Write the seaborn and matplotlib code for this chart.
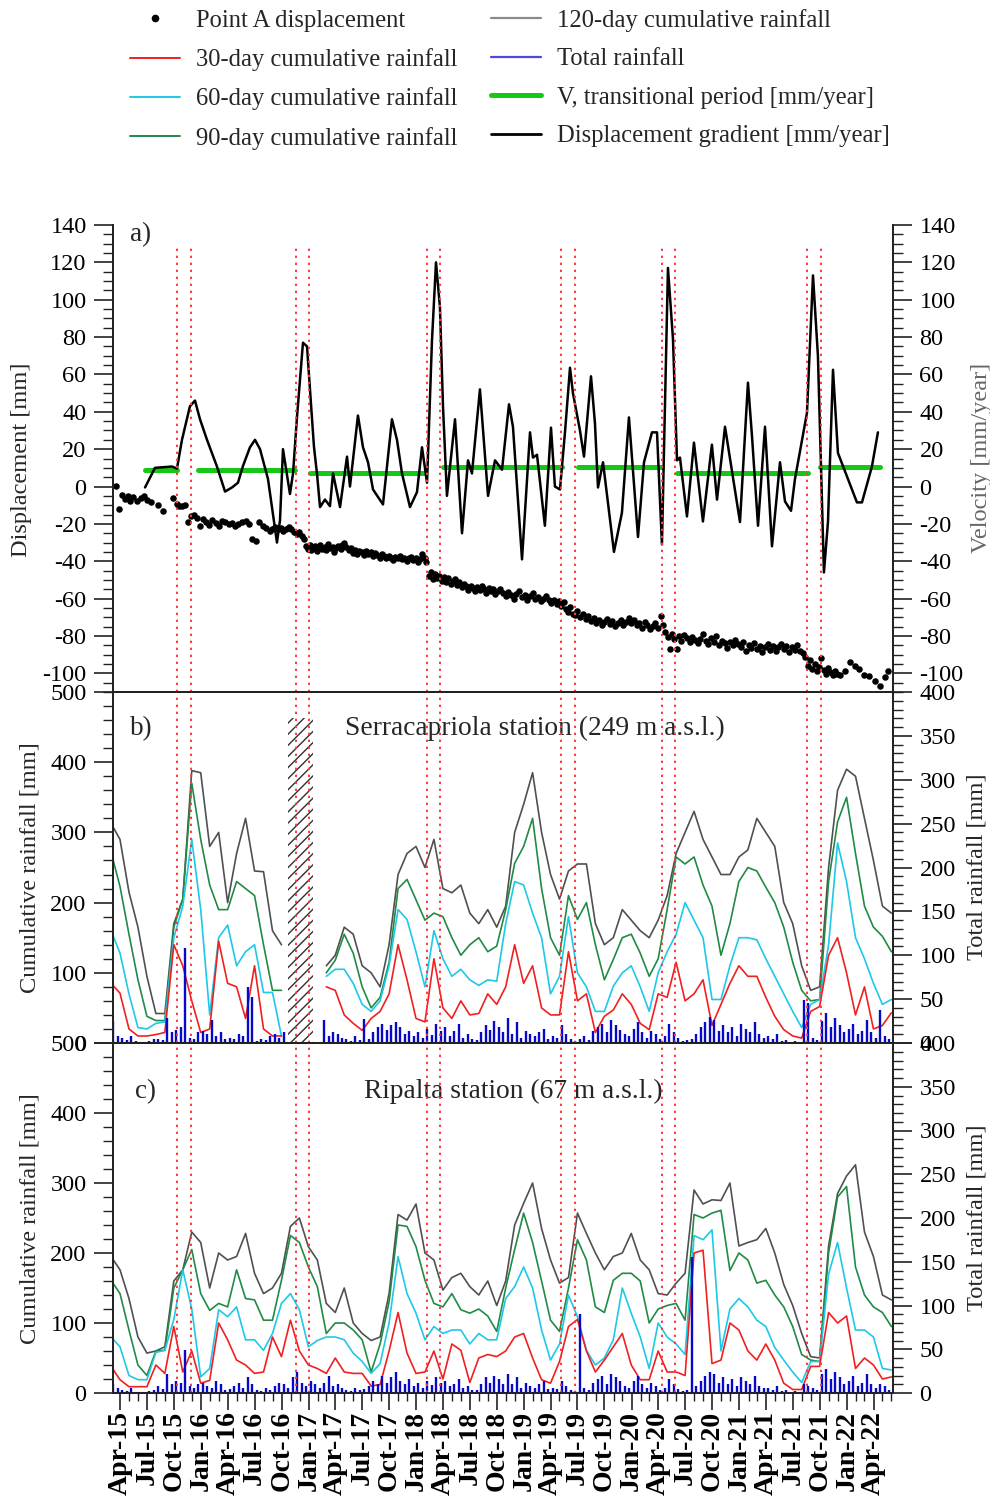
import numpy as np
import pandas as pd
import matplotlib
matplotlib.use("Agg")
import matplotlib.pyplot as plt
from matplotlib.lines import Line2D
from matplotlib.ticker import MultipleLocator
import matplotlib.dates as mdates
import seaborn as sns

# ---------------------------------------------------------------- data
# time is given in months since 1 April 2015
tick_labels = ["Apr-15", "Jul-15", "Oct-15", "Jan-16", "Apr-16", "Jul-16", "Oct-16",
               "Jan-17", "Apr-17", "Jul-17", "Oct-17", "Jan-18", "Apr-18", "Jul-18",
               "Oct-18", "Jan-19", "Apr-19", "Jul-19", "Oct-19", "Jan-20", "Apr-20",
               "Jul-20", "Oct-20", "Jan-21", "Apr-21", "Jul-21", "Oct-21", "Jan-22", "Apr-22"]

# transition limits (red dotted lines)
transition_t = [6.4, 7.9, 19.6, 21.1, 34.2, 35.7, 49.2, 50.7, 60.4, 61.9, 76.6, 78.1]

# Point A displacement [mm]
disp_t = [-0.45, -0.1, 0.25, 0.55, 0.85, 1.15, 1.45, 1.85, 2.3, 2.7, 3.05, 3.5, 4.2, 4.8, 5.9,
          6.3, 6.6, 6.95, 7.3,
          7.55, 7.9, 8.25, 8.6, 8.95, 9.3, 9.6, 9.95, 10.3, 10.7, 11.0, 11.4, 11.75, 12.1, 12.5,
          12.85, 13.2, 13.6, 14.0, 14.4, 14.7, 15.2, 15.5, 15.9, 16.3, 16.7, 17.0, 17.3, 17.6,
          17.9, 18.2, 18.5, 18.8, 19.1, 19.4, 19.7, 20.0, 20.3, 20.55,
          20.75, 20.95, 21.15, 21.35, 21.55, 21.75, 21.95, 22.15, 22.35, 22.55, 22.8, 23.0, 23.2,
          23.45, 23.7, 23.9, 24.1, 24.35, 24.6, 24.8, 25.0, 25.25, 25.5, 25.7, 25.95, 26.2, 26.45,
          26.7, 26.95, 27.2, 27.45, 27.7, 27.95, 28.2, 28.45, 28.7, 28.95, 29.2, 29.45, 29.7,
          29.95, 30.2, 30.45, 30.7, 30.95, 31.2, 31.45, 31.7, 31.95, 32.2, 32.45, 32.7, 32.95,
          33.2, 33.45, 33.7, 33.95, 34.15,
          34.5, 34.7, 34.9, 35.1, 35.35, 35.6, 35.85, 36.1, 36.35, 36.6, 36.85, 37.1, 37.35, 37.6,
          37.85, 38.1, 38.35, 38.6, 38.85, 39.1, 39.35, 39.6, 39.85, 40.1, 40.35, 40.6, 40.85,
          41.1, 41.35, 41.6, 41.85, 42.1, 42.4, 42.7, 43.0, 43.3, 43.6, 43.9, 44.2, 44.5, 44.8,
          45.1, 45.4, 45.7, 46.0, 46.3, 46.6, 46.9, 47.2, 47.5, 47.8, 48.1, 48.4, 48.7, 48.95,
          49.2, 49.45, 49.7, 49.95, 50.2, 50.45, 50.7,
          51.0, 51.3, 51.6, 51.9, 52.2, 52.5, 52.8, 53.1, 53.4, 53.7, 54.0, 54.3, 54.6, 54.9, 55.2,
          55.5, 55.8, 56.1, 56.4, 56.7, 57.0, 57.3, 57.6, 57.9, 58.2, 58.5, 58.8, 59.1, 59.4, 59.7,
          60.0, 60.3, 60.55,
          60.8, 61.05, 61.3, 61.55, 61.8, 62.05, 62.3, 62.6, 62.9, 63.2, 63.5, 63.8, 64.1, 64.4,
          64.7, 65.0, 65.3, 65.6, 65.9, 66.2, 66.5, 66.8, 67.1, 67.4, 67.7, 68.0, 68.3, 68.6, 68.9,
          69.2, 69.5, 69.8, 70.1, 70.4, 70.7, 71.0, 71.3, 71.6, 71.9, 72.2, 72.5, 72.8, 73.1, 73.4,
          73.7, 74.0, 74.3, 74.6, 74.9, 75.2, 75.5, 75.8, 76.1, 76.4,
          76.7, 76.95, 77.2, 77.45, 77.7, 77.95, 78.2, 78.45, 78.7, 78.95, 79.2, 79.45, 79.7,
          79.95, 80.3, 80.8, 81.4, 81.9, 82.4, 82.9, 83.5, 84.2, 84.7, 85.3, 85.6]
disp_mm = [0.5, -12, -4.5, -6.5, -5, -8, -5.5, -7.5, -6, -5, -7, -8.5, -10, -13, -6,
           -9.5, -10.5, -10.5, -10,
           -19, -16, -15.5, -17, -21, -17.5, -19, -20.5, -18, -19.5, -21, -18.5, -19, -20, -19.5,
           -21, -20, -19, -18.5, -20, -28, -29, -19, -21, -22, -24, -22.5, -21.5, -23,
           -22, -24, -22.5, -21.5, -23, -24.5, -25.5, -24.5, -26.5, -28,
           -32, -33.5, -31.5, -34, -33, -32, -34.5, -33, -31.5, -33.5, -32.5, -34, -31,
           -33, -32.5, -35, -33, -32, -33.5, -31.5, -30, -32.5, -34, -33, -35.5, -34, -36,
           -34.5, -35, -36.5, -34.5, -36, -35, -37, -35.5, -36.5, -38, -36, -37, -38.5,
           -37, -38, -39.5, -37.5, -38.5, -37, -39, -38, -40, -38.5, -37.5, -39.5, -38,
           -40.5, -39, -36, -38.5, -40.5,
           -48, -46, -49.5, -47, -49, -48, -50.5, -48.5, -51, -49, -52, -50.5, -49.5, -52.5,
           -51, -54, -52, -53.5, -55.5, -53, -54.5, -56, -54, -55.5, -53.5, -55, -57,
           -54.5, -56, -55, -57.5, -56, -55, -57, -58.5, -56.5, -58, -60, -57.5, -56, -59,
           -58, -60.5, -58.5, -57, -60, -59, -61.5, -60, -58.5, -61, -62.5, -60.5, -63, -61.5,
           -64, -62, -65.5, -67, -64.5, -68, -69,
           -66.5, -70, -68.5, -71, -69.5, -72, -70.5, -73, -71.5, -74, -72.5, -71, -73.5, -72, -74.5,
           -73, -71.5, -74, -72.5, -70.5, -73, -71.5, -74, -73, -75.5, -72.5, -74, -76.5, -74.5, -73,
           -75.5, -69.5, -74,
           -78, -80.5, -87, -79, -81.5, -87, -80, -82.5, -79.5, -81, -83.5, -80.5, -82, -84,
           -81.5, -79, -82.5, -84.5, -81, -83, -80, -85, -82.5, -84, -86.5, -83.5, -85, -82, -84.5,
           -86, -83.5, -88, -85, -86.5, -84, -87, -85.5, -88.5, -86, -84.5, -87.5, -85.5, -88, -86,
           -84.5, -87, -85.5, -88.5, -86, -87.5, -85, -88, -89, -91,
           -96, -93, -97.5, -95, -99, -96.5, -92, -98, -100.5, -97, -99.5, -101, -98.5,
           -100.5, -101, -99, -94, -96, -97.5, -101, -101.5, -104, -107, -102, -99]

# displacement gradient [mm/year]
grad_t = [2.79, 3.90, 5.80, 6.35, 6.91, 7.80, 8.36, 8.92, 9.70, 10.81, 11.71, 12.49, 13.15,
          13.71, 14.49, 15.05, 15.61, 16.50, 17.50, 17.84, 18.17, 18.95, 19.29, 19.73, 20.40,
          20.85, 21.18, 21.63, 21.96, 22.30, 22.85, 23.41, 23.75, 24.53, 25.31, 25.64, 26.53,
          27.09, 27.65, 28.21, 29.32, 30.32, 30.88, 31.44, 32.33, 33.11, 33.67, 34.23, 34.78,
          35.23, 35.67, 36.01, 36.45, 37.35, 38.13, 38.80, 39.24, 40.13, 41.03, 41.81, 42.59,
          43.37, 43.81, 44.82, 45.71, 46.04, 46.49, 47.37, 48.05, 48.49, 49.05, 49.61, 50.17,
          50.50, 51.28, 51.73, 52.51, 52.95, 53.29, 53.85, 55.07, 55.96, 56.74, 57.75, 58.42,
          59.31, 59.87, 60.42, 61.09, 61.65, 62.10, 62.43, 63.21, 63.99, 64.99, 65.99, 66.56,
          67.45, 69.12, 70.01, 70.46, 71.13, 71.91, 72.69, 73.58, 74.14, 74.81, 75.25, 76.59,
          77.26, 77.81, 78.48, 78.93, 79.49, 80.04, 82.16, 82.72, 83.83, 84.50]
grad_v = [-0.5, 10, 10.7, 9.6, 25, 43, 46, 36, 25, 10.7, -2.7, -0.5, 2,
          11, 21, 25, 20, 4, -30, -18, 20, -4, 7, 37, 77,
          75, 52, 21, 7, -11, -7, -10.5, 7, -11, 16, 0, 38,
          21, 13, -1.6, -9.6, 36, 25, 7, -11, -3, 21, 2, 78,
          120, 96, 43, -5, 36, -25, 14, 7, 52, -5, 14, 9,
          44, 32, -39, 29, 15.5, 17, -21, 31.5, 0, -1.6, 29, 63.6,
          50, 30, 16, 59, 34, -0.5, 13, -35, -14, 37, -27, 13,
          29, 29, -31, 117, 79, 14, 15.5, -16, 23.5, -18.7, 22.4, -7,
          32, -19, 55.6, 27, -21, 32, -32, 13, -8, -13, 4, 39.5,
          113, 70, -46, -19, 62.5, 18, -8.5, -8.5, 10.7, 29]

# V, transitional period [mm/year]
vel_start = [2.8, 8.7, 21.2, 36.0, 51.1, 62.1, 78.0]
vel_end = [6.4, 19.5, 33.9, 49.3, 60.4, 76.7, 84.7]
vel_value = [9.1, 9.1, 7.3, 10.7, 10.7, 7.3, 10.7]

# cumulative rainfall, monthly reading grid (months since Apr-2015)
rain_t = list(range(-1, 87))
nan = float("nan")

serra_120 = [313, 290, 215, 165, 95, 42, 42, 170, 205, 388, 385, 280, 300, 200, 270, 320, 245, 244,
             160, 140, nan, nan, nan, nan, 110, 125, 165, 155, 110, 100, 80, 140, 240, 270, 280,
             250, 290, 220, 214, 225, 185, 170, 190, 165, 195, 300, 340, 385, 300, 240, 205, 245,
             255, 255, 170, 140, 150, 190, 175, 160, 150, 175, 210, 270, 300, 330, 290, 265, 240,
             240, 265, 275, 320, 300, 280, 200, 170, 110, 75, 80, 250, 360, 390, 380, 320, 260,
             195, 185]
serra_90 = [272, 223, 155, 90, 38, 32, 32, 165, 205, 370, 290, 225, 190, 190, 230, 220, 210, 140,
            75, 75, nan, nan, nan, nan, 100, 118, 155, 128, 80, 50, 65, 115, 220, 233, 204,
            175, 185, 180, 150, 125, 140, 150, 130, 138, 190, 256, 280, 320, 220, 150, 125, 210,
            176, 200, 140, 90, 119, 150, 155, 128, 95, 120, 190, 265, 255, 265, 225, 195, 125,
            170, 230, 250, 245, 222, 200, 165, 115, 75, 60, 62, 230, 315, 350, 270, 195, 165,
            152, 130]
serra_60 = [160, 128, 70, 22, 20, 28, 30, 150, 195, 290, 190, 40, 150, 168, 110, 130, 140, 72,
            72, 10, nan, nan, nan, nan, 95, 105, 105, 85, 55, 45, 60, 110, 190, 176, 130,
            80, 160, 120, 95, 105, 90, 82, 90, 88, 170, 230, 225, 185, 150, 70, 95, 180,
            100, 80, 45, 45, 81, 100, 110, 80, 45, 100, 130, 155, 200, 175, 150, 62, 62,
            110, 150, 150, 147, 120, 95, 70, 45, 22, 55, 62, 140, 285, 230, 150, 120, 85,
            55, 62]
serra_30 = [85, 71, 20, 10, 10, 12, 15, 140, 110, 60, 15, 20, 145, 85, 80, 35, 110, 20,
            10, 10, nan, nan, nan, nan, 80, 75, 40, 28, 18, 35, 45, 70, 140, 90, 35,
            30, 120, 50, 35, 60, 40, 42, 70, 55, 80, 140, 85, 110, 50, 40, 40, 130,
            60, 70, 15, 38, 47, 70, 55, 28, 19, 70, 65, 115, 60, 70, 90, 25, 55,
            85, 110, 95, 95, 65, 38, 19, 10, 7, 45, 52, 125, 150, 100, 40, 80, 20,
            25, 43]

ripa_120 = [195, 176, 135, 80, 57, 60, 66, 160, 176, 230, 215, 150, 200, 190, 195, 228, 171, 142,
            150, 171, 238, 250, 209, 190, 128, 115, 150, 100, 85, 75, 80, 142, 255, 247, 270,
            200, 190, 147, 165, 171, 152, 140, 160, 125, 160, 240, 271, 300, 235, 190, 157, 165,
            257, 228, 200, 176, 195, 200, 228, 190, 176, 142, 140, 157, 171, 290, 270, 276, 275,
            300, 210, 215, 219, 235, 200, 155, 125, 85, 52, 50, 210, 285, 310, 326, 230, 195,
            140, 133]
ripa_90 = [161, 142, 90, 40, 25, 60, 61, 150, 176, 205, 142, 118, 128, 123, 176, 135, 133, 104,
           104, 161, 225, 215, 180, 152, 85, 100, 100, 90, 76, 30, 70, 130, 240, 238, 209,
           161, 128, 123, 142, 119, 114, 120, 110, 88, 150, 205, 257, 215, 160, 104, 88, 150,
           219, 190, 123, 115, 161, 171, 171, 160, 100, 120, 125, 128, 104, 255, 250, 257, 261,
           175, 200, 190, 157, 161, 140, 123, 95, 55, 47, 45, 200, 280, 295, 180, 140, 123,
           115, 95]
ripa_60 = [80, 66, 25, 19, 19, 58, 61, 105, 176, 120, 23, 35, 119, 109, 123, 76, 76, 61,
           85, 128, 142, 119, 66, 75, 80, 80, 76, 57, 45, 28, 42, 100, 195, 142, 114,
           76, 95, 85, 90, 90, 70, 85, 76, 76, 135, 152, 180, 150, 90, 47, 70, 140,
           109, 61, 40, 50, 76, 150, 114, 80, 35, 100, 80, 70, 55, 225, 219, 233, 60,
           120, 135, 123, 104, 95, 65, 47, 30, 15, 45, 45, 170, 215, 150, 90, 90, 80,
           35, 33]
ripa_30 = [38, 19, 9, 9, 9, 40, 28, 95, 30, 60, 14, 18, 100, 76, 47, 40, 28, 30,
           80, 52, 104, 60, 40, 35, 28, 50, 30, 28, 28, 10, 12, 60, 115, 57, 28,
           30, 60, 20, 70, 61, 15, 50, 55, 52, 60, 80, 85, 50, 19, 14, 45, 95,
           105, 60, 30, 47, 66, 85, 40, 19, 19, 60, 30, 30, 25, 200, 204, 42, 47,
           100, 90, 60, 47, 70, 47, 14, 5, 5, 38, 38, 115, 100, 110, 35, 50, 40,
           20, 23]

# total (daily) rainfall [mm], read every half month from -0.75 to 85.75
total_t = [x * 0.5 - 0.75 for x in range(174)]
serra_total = [25, 8,
               6, 3, 8, 2, 1, 0, 2, 4, 5, 3, 28, 12, 15, 18, 108, 6, 4, 12, 14, 10, 26, 8, 12, 5,
               6, 4, 10, 8, 64, 52, 2, 4, 3, 8, 10, 6, 12, 0, 0, 0, 0, 0, 0, 0, 0, 26, 8, 12,
               10, 6, 4, 2, 8, 3, 27, 5, 12, 18, 22, 15, 20, 24, 18, 10, 14, 8, 12, 6, 16, 9, 22, 14,
               18, 8, 14, 22, 6, 10, 4, 3, 12, 20, 15, 25, 18, 12, 28, 10, 24, 6, 14, 10, 8, 12, 16, 5,
               8, 6, 20, 10, 4, 2, 5, 8, 3, 14, 18, 22, 12, 26, 20, 15, 10, 8, 16, 24, 12, 6, 14, 10,
               4, 8, 22, 12, 6, 2, 3, 5, 10, 18, 24, 30, 26, 14, 20, 12, 18, 8, 22, 16, 12, 24, 10, 6,
               8, 4, 10, 2, 3, 1, 2, 0, 49, 46, 6, 3, 25, 34, 18, 28, 20, 12, 16, 22, 10, 14, 26, 12,
               6, 38, 8, 4]
ripa_total = [10, 6,
              4, 2, 6, 1, 0, 0, 2, 3, 8, 5, 22, 10, 14, 12, 49, 8, 6, 10, 12, 8, 6, 14, 10, 4,
              5, 8, 12, 6, 18, 10, 3, 2, 6, 4, 8, 12, 10, 6, 18, 24, 12, 8, 14, 10, 6, 12, 20, 8,
              10, 6, 4, 2, 6, 3, 5, 8, 14, 10, 20, 12, 18, 24, 14, 10, 16, 8, 12, 6, 14, 9, 18, 12,
              14, 8, 10, 16, 6, 8, 4, 3, 10, 18, 12, 20, 16, 10, 22, 10, 18, 6, 12, 8, 6, 10, 14, 5,
              6, 5, 14, 8, 4, 2, 90, 6, 3, 12, 16, 20, 10, 22, 18, 14, 8, 6, 14, 20, 10, 6, 12, 8,
              4, 6, 16, 10, 5, 2, 3, 155, 8, 14, 20, 24, 22, 12, 18, 10, 16, 8, 18, 14, 10, 20, 8, 6,
              6, 4, 8, 2, 3, 1, 2, 0, 10, 8, 6, 3, 22, 28, 16, 24, 18, 10, 14, 20, 8, 12, 22, 10,
              6, 10, 8, 4]

# Serracapriola missing-data window
gap_start, gap_end = 18.75, 21.5

# ---------------------------------------------------------------- style
sns.set_style("ticks")
plt.rcParams["font.family"] = ["Liberation Serif", "DejaVu Serif"]
plt.rcParams["axes.unicode_minus"] = False
plt.rcParams["hatch.linewidth"] = 1.0

C30, C60, C90, C120 = "#f02020", "#1ec8e8", "#218a45", "#505050"
CBLUE, CGREEN, CRED = "#0808c8", "#16c816", "#ff3a3a"
ORIGIN = pd.Timestamp("2015-04-01")


def to_date(m):
    return ORIGIN + pd.to_timedelta(np.asarray(m, dtype=float) * 30.4375, unit="D")


def draw_series(ax, t, v, color, lw=1.2):
    d = pd.DataFrame({"date": to_date(t), "val": v})
    ok = d["val"].notna()
    grp = (~ok).cumsum()
    for _, seg in d[ok].groupby(grp[ok]):
        sns.lineplot(data=seg, x="date", y="val", ax=ax, color=color, lw=lw,
                     estimator=None, sort=False, legend=False)


fig = plt.figure(figsize=(9.9, 14.99), dpi=100)
L, W = 113 / 990, 780 / 990
H = 1499
ax_a = fig.add_axes([L, 1 - 692 / H, W, 467 / H])
ax_b = fig.add_axes([L, 1 - 1043 / H, W, 351 / H])
ax_c = fig.add_axes([L, 1 - 1393 / H, W, 350 / H])
ax_a2, ax_b2, ax_c2 = ax_a.twinx(), ax_b.twinx(), ax_c.twinx()

xlim = (to_date(-0.78), to_date(86.18))
tick_dates = pd.to_datetime(tick_labels, format="%b-%y")

# ---------------------------------------------------------------- panel a
sns.scatterplot(x=to_date(disp_t), y=disp_mm, ax=ax_a, color="black", s=22,
                linewidth=0, legend=False, zorder=3)
for s0, s1, v in zip(vel_start, vel_end, vel_value):
    sns.lineplot(x=to_date([s0, s1]), y=[v, v], ax=ax_a2, color=CGREEN, lw=3.6,
                 estimator=None, legend=False)
sns.lineplot(x=to_date(grad_t), y=grad_v, ax=ax_a2, color="black", lw=1.8,
             estimator=None, sort=False, legend=False)
for t in transition_t:
    ax_a2.axvline(to_date([t])[0], ymin=0, ymax=0.96, color=CRED, lw=1.4, ls=(0, (1.2, 2.4)))
for ax in (ax_a, ax_a2):
    ax.set_ylim(-110, 140)
    ax.yaxis.set_major_locator(MultipleLocator(20))
    ax.yaxis.set_minor_locator(MultipleLocator(5))
ax_a.text(0.022, 0.979, "a)", transform=ax_a.transAxes, fontsize=19.5, va="center", ha="left")

# ---------------------------------------------------------------- panels b and c
panels = [
    (ax_b, ax_b2, serra_120, serra_90, serra_60, serra_30, serra_total,
     "b)", 0.022, "Serracapriola station (249 m a.s.l.)", 0.541, 0.895),
    (ax_c, ax_c2, ripa_120, ripa_90, ripa_60, ripa_30, ripa_total,
     "c)", 0.028, "Ripalta station (67 m a.s.l.)", 0.513, 0.862),
]
for ax, ax2, r120, r90, r60, r30, tot, lab, lx, title, tx, ty in panels:
    draw_series(ax, rain_t, r120, C120)
    draw_series(ax, rain_t, r90, C90)
    draw_series(ax, rain_t, r60, C60)
    draw_series(ax, rain_t, r30, C30)
    ax2.vlines(to_date(total_t), 0, tot, color=CBLUE, lw=1.7)
    ax.set_ylim(0, 500)
    ax.yaxis.set_major_locator(MultipleLocator(100))
    ax.yaxis.set_minor_locator(MultipleLocator(20))
    ax2.set_ylim(0, 400)
    ax2.yaxis.set_major_locator(MultipleLocator(50))
    ax2.yaxis.set_minor_locator(MultipleLocator(10))
    for t in transition_t:
        ax2.axvline(to_date([t])[0], color=CRED, lw=1.4, ls=(0, (1.2, 2.4)))
    ax.text(lx, ty, lab, transform=ax.transAxes, fontsize=19.5, va="center", ha="left")
    ax.text(tx, ty, title, transform=ax.transAxes, fontsize=19.8, va="center", ha="center")

# baselines of daily rainfall
ax_b2.hlines(0, xlim[0], to_date([gap_start])[0], color=CBLUE, lw=1.5)
ax_b2.hlines(0, to_date([22.5])[0], to_date([85.9])[0], color=CBLUE, lw=1.5)
ax_c2.hlines(0, xlim[0], to_date([85.9])[0], color=CBLUE, lw=1.5)

# hatched no-data window
ax_b.axvspan(to_date([gap_start])[0], to_date([gap_end])[0], ymin=0, ymax=0.925,
             facecolor="none", edgecolor="#303030", hatch="///", linewidth=0)

# ---------------------------------------------------------------- axes cosmetics
for ax in (ax_a, ax_b, ax_c, ax_a2, ax_b2, ax_c2):
    ax.set_xlim(*xlim)
    ax.set_xlabel("")
    ax.set_ylabel("")
    for sp in ax.spines.values():
        sp.set_linewidth(1.3)
        sp.set_color("#222222")
    ax.tick_params(axis="y", which="major", direction="out", length=14, width=1.2,
                   labelsize=17.5, pad=5, colors="#222222", labelcolor="black")
    ax.tick_params(axis="y", which="minor", direction="out", length=7, width=1.0,
                   colors="#222222")
for ax in (ax_a, ax_a2):
    ax.spines["top"].set_visible(False)
for ax in (ax_a, ax_b, ax_c):
    ax.set_xticks(tick_dates)
    ax.xaxis.set_minor_locator(mdates.MonthLocator())
    ax.tick_params(axis="x", which="major", direction="out", length=12, width=1.2,
                   colors="#222222", labelcolor="black")
    ax.tick_params(axis="x", which="minor", direction="out", length=6, width=1.0,
                   colors="#222222")
ax_a.set_xticklabels([])
ax_b.set_xticklabels([])
ax_c.set_xticklabels(tick_labels, rotation=90, fontsize=20, fontweight="bold")
ax_c.tick_params(axis="x", which="major", pad=1)

# axis titles
fig.text(22 / 990, 1 - 460 / H, "Displacement [mm]", rotation=90, ha="center", va="center", fontsize=17.6)
fig.text(30 / 990, 1 - 868 / H, "Cumulative rainfall [mm]", rotation=90, ha="center", va="center", fontsize=17.6)
fig.text(30 / 990, 1 - 1219 / H, "Cumulative rainfall [mm]", rotation=90, ha="center", va="center", fontsize=17.6)
fig.text(982 / 990, 1 - 458 / H, "Velocity [mm/year]", rotation=90, ha="center", va="center",
         fontsize=17.6, color="#666666")
fig.text(977 / 990, 1 - 867 / H, "Total rainfall [mm]", rotation=90, ha="center", va="center", fontsize=17.6)
fig.text(977 / 990, 1 - 1218 / H, "Total rainfall [mm]", rotation=90, ha="center", va="center", fontsize=17.6)

# ---------------------------------------------------------------- legend
handles = [
    Line2D([], [], marker="o", ls="none", color="black", markersize=4.5),
    Line2D([], [], color=C30, lw=1.4),
    Line2D([], [], color=C60, lw=1.4),
    Line2D([], [], color=C90, lw=1.4),
    Line2D([], [], color="#8a8a8a", lw=1.6),
    Line2D([], [], color="#4a4ae0", lw=1.6),
    Line2D([], [], color=CGREEN, lw=3.6),
    Line2D([], [], color="black", lw=2.0),
]
labels = ["Point A displacement", "30-day cumulative rainfall", "60-day cumulative rainfall",
          "90-day cumulative rainfall", "120-day cumulative rainfall", "Total rainfall",
          "V, transitional period [mm/year]", "Displacement gradient [mm/year]"]
fig.legend(handles, labels, ncol=2, loc="upper left", bbox_to_anchor=(130 / 990, 1 - 9 / H),
           frameon=False, fontsize=17.7, handlelength=2.05, handletextpad=0.65,
           columnspacing=1.35, labelspacing=0.66, borderpad=0, borderaxespad=0, numpoints=1)

fig.savefig("out.png", dpi=100)
